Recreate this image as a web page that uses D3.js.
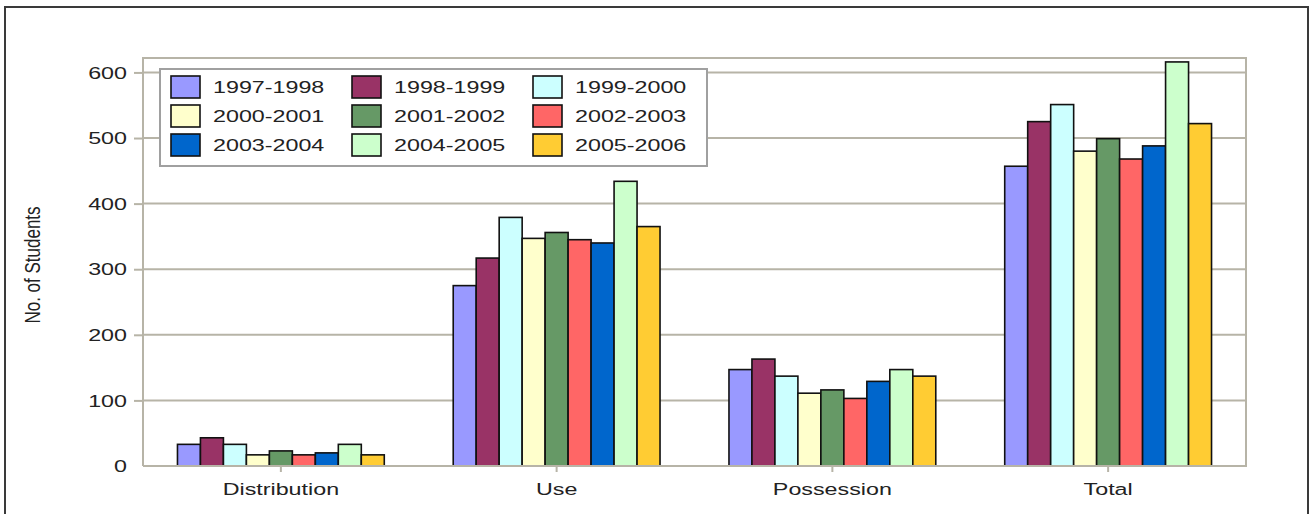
<!DOCTYPE html>
<html>
<head>
<meta charset="utf-8">
<script src="https://cdn.jsdelivr.net/npm/d3@7"></script>
<style>
  html, body { margin: 0; padding: 0; background: #ffffff; }
  svg { display: block; }
  text { font-family: "Liberation Sans", Arial, sans-serif; fill: #222; }
</style>
</head>
<body>
<svg id="chart" width="1310" height="514"></svg>
<script>
const categories = ["Distribution", "Use", "Possession", "Total"];
const seriesNames = ["1997-1998", "1998-1999", "1999-2000", "2000-2001", "2001-2002", "2002-2003", "2003-2004", "2004-2005", "2005-2006"];
const seriesColors = ["#9999ff", "#993366", "#ccffff", "#ffffcc", "#669966", "#ff6666", "#0066cc", "#ccffcc", "#ffcc33"];
const distribution = [33, 43, 33, 17, 23, 17, 20, 33, 17];
const use = [275, 317, 379, 347, 356, 345, 340, 434, 365];
const possession = [147, 163, 137, 111, 116, 103, 129, 147, 137];
const total = [457, 525, 551, 480, 499, 468, 488, 616, 522];
const yTicks = [0, 100, 200, 300, 400, 500, 600];
const yTitle = "No. of Students";

const valuesByCategory = [distribution, use, possession, total];
const data = categories.map((c, i) => ({
  category: c,
  values: seriesNames.map((s, j) => ({ series: s, color: seriesColors[j], value: valuesByCategory[i][j] }))
}));

const svg = d3.select("#chart");
const SX = 1.37; // horizontal stretch of glyphs in the reference
const FS = 17;
const gridColor = "#b7b4a7";

const pLeft = 143, pRight = 1246, pTop = 58, pBottom = 466;

const x0 = d3.scaleBand().domain(categories).range([pLeft, pRight]).paddingInner(0.25).paddingOuter(0.125);
const x1 = d3.scaleBand().domain(seriesNames).range([0, x0.bandwidth()]).padding(0);
const y = d3.scaleLinear().domain([0, 622]).range([pBottom, pTop]);

// Outer frame
svg.append("path")
  .attr("d", `M5,514 L5,7 L1308,7 L1308,514`)
  .attr("fill", "none").attr("stroke", "#3a3a3a").attr("stroke-width", 2);

// Gridlines
svg.append("g").selectAll("line").data(yTicks.filter(t => t > 0)).join("line")
  .attr("x1", pLeft).attr("x2", pRight)
  .attr("y1", d => y(d)).attr("y2", d => y(d))
  .attr("stroke", gridColor).attr("stroke-width", 2);

// Plot border (left, top, right)
svg.append("path")
  .attr("d", `M${pLeft},${pBottom} L${pLeft},${pTop} L${pRight},${pTop} L${pRight},${pBottom}`)
  .attr("fill", "none").attr("stroke", gridColor).attr("stroke-width", 2);

// Y axis ticks and labels
const yAxis = d3.axisLeft(y).tickValues(yTicks).tickSize(9).tickFormat("");
const yg = svg.append("g").attr("transform", `translate(${pLeft},0)`).call(yAxis);
yg.select(".domain").remove();
yg.selectAll(".tick line").attr("stroke", gridColor).attr("stroke-width", 2)
  .attr("display", d => d === 0 ? "none" : null);

svg.append("g").selectAll("g").data(yTicks).join("g")
  .attr("transform", d => `translate(127,${y(d)}) scale(${SX},1)`)
  .append("text")
  .attr("text-anchor", "end").attr("dy", "0.36em")
  .attr("font-size", FS)
  .text(d => d);

// Y title
svg.append("g")
  .attr("transform", `translate(40,265) rotate(-90) scale(1,1.25)`)
  .append("text")
  .attr("text-anchor", "middle")
  .attr("font-size", 17)
  .text(yTitle);

// Bars
const groups = svg.append("g").selectAll("g").data(data).join("g")
  .attr("transform", d => `translate(${x0(d.category)},0)`);
groups.selectAll("rect").data(d => d.values).join("rect")
  .attr("x", d => x1(d.series))
  .attr("y", d => y(d.value))
  .attr("width", x1.bandwidth())
  .attr("height", d => y(0) - y(d.value))
  .attr("fill", d => d.color)
  .attr("stroke", "#111").attr("stroke-width", 1.6);

// X axis line
svg.append("line")
  .attr("x1", pLeft).attr("x2", pRight + 1)
  .attr("y1", pBottom).attr("y2", pBottom)
  .attr("stroke", gridColor).attr("stroke-width", 2);

// X axis ticks + labels
const xAxis = d3.axisBottom(x0).tickSize(6).tickFormat("");
const xg = svg.append("g").attr("transform", `translate(0,${pBottom})`).call(xAxis);
xg.select(".domain").remove();
xg.selectAll(".tick line").attr("stroke", gridColor).attr("stroke-width", 2);

svg.append("g").selectAll("g").data(categories).join("g")
  .attr("transform", d => `translate(${x0(d) + x0.bandwidth() / 2},495) scale(${SX},1)`)
  .append("text")
  .attr("text-anchor", "middle")
  .attr("font-size", FS)
  .text(d => d);

// Legend
const legend = svg.append("g");
legend.append("rect")
  .attr("x", 160).attr("y", 69).attr("width", 547).attr("height", 97)
  .attr("fill", "#ffffff").attr("stroke", "#a0a0a0").attr("stroke-width", 2);
const items = legend.selectAll("g.item").data(seriesNames).join("g")
  .attr("class", "item")
  .attr("transform", (d, i) => `translate(${171 + (i % 3) * 181},${76 + Math.floor(i / 3) * 29})`);
items.append("rect")
  .attr("width", 29).attr("height", 22)
  .attr("fill", (d, i) => seriesColors[i])
  .attr("stroke", "#111").attr("stroke-width", 1.6);
items.append("g")
  .attr("transform", `translate(42,17) scale(${SX},1)`)
  .append("text")
  .attr("font-size", FS)
  .text(d => d);
</script>
</body>
</html>
